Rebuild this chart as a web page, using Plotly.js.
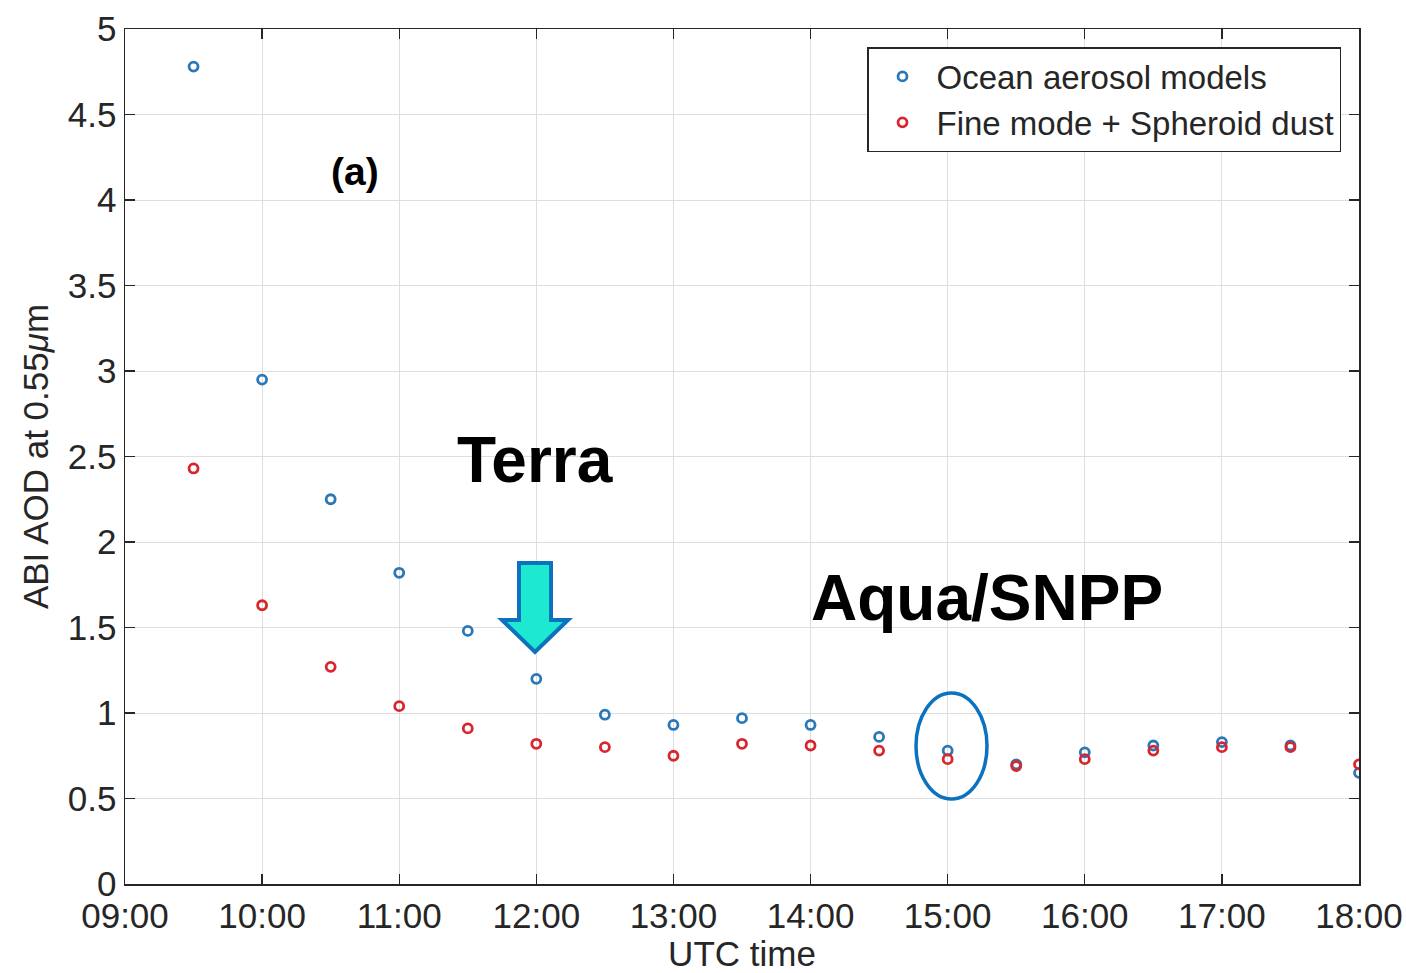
<!DOCTYPE html>
<html>
<head>
<meta charset="utf-8">
<script src="https://cdn.plot.ly/plotly-3.0.1.min.js"></script>
<style>html,body{margin:0;padding:0;background:#fff;}#chart{width:1406px;height:973px;}</style>
</head>
<body>
<div id="chart"></div>
<script>
// ---- data ----
const times = ["09:30","10:00","10:30","11:00","11:30","12:00","12:30","13:00","13:30","14:00","14:30","15:00","15:30","16:00","16:30","17:00","17:30","18:00"];
const oceanAOD = [4.78,2.95,2.25,1.82,1.48,1.20,0.99,0.93,0.97,0.93,0.86,0.78,0.70,0.77,0.81,0.83,0.81,0.65];
const fineDustAOD = [2.43,1.63,1.27,1.04,0.91,0.82,0.80,0.75,0.82,0.81,0.78,0.73,0.69,0.73,0.78,0.80,0.80,0.70];
const seriesNames = ["Ocean aerosol models","Fine mode + Spheroid dust"];
const yTicks = [0,0.5,1,1.5,2,2.5,3,3.5,4,4.5,5];
const yTickText = ["0","0.5","1","1.5","2","2.5","3","3.5","4","4.5","5"];
const xTickTimes = ["09:00","10:00","11:00","12:00","13:00","14:00","15:00","16:00","17:00","18:00"];

const day = "2018-01-01 ";
const toDate = t => day + t;

// pixel -> paper helpers (plot area: x 125..1359, y 29..884)
const L = 125, R = 1359, T = 29, B = 884;
const px = x => (x - L) / (R - L);
const py = y => (B - y) / (B - T);

const font = "Liberation Sans, Arial, Helvetica, sans-serif";
const blue = "#2b78b8";
const red = "#d9262e";
const ink = "#262626";

const traces = [
  {x: times.map(toDate), y: oceanAOD, name: seriesNames[0], type: "scatter", mode: "markers",
   marker: {symbol: "circle-open", size: 9, color: blue, line: {width: 2.8, color: blue}}},
  {x: times.map(toDate), y: fineDustAOD, name: seriesNames[1], type: "scatter", mode: "markers",
   marker: {symbol: "circle-open", size: 9, color: red, line: {width: 2.8, color: red}}}
];

// arrow shape (pixel based)
const ax = [519, 551, 551, 568, 535, 502, 519];
const ay = [563, 563, 620, 620, 652, 620, 620];
let arrowPath = "M " + ax.map((v, i) => px(v) + "," + py(ay[i])).join(" L ") + " Z";

const layout = {
  width: 1406, height: 973,
  margin: {l: L, r: 1406 - R, t: T, b: 973 - B, pad: 0},
  paper_bgcolor: "#ffffff", plot_bgcolor: "#ffffff",
  font: {family: font, color: ink, size: 34},
  showlegend: true,
  legend: {x: px(1341), y: py(47), xanchor: "right", yanchor: "top",
    bgcolor: "#ffffff", bordercolor: ink, borderwidth: 1.5,
    font: {family: font, size: 33, color: ink}, tracegroupgap: 0, itemwidth: 58},
  xaxis: {type: "date", range: [toDate("09:00"), toDate("18:00")],
    tickvals: xTickTimes.map(toDate), ticktext: xTickTimes,
    showgrid: true, gridcolor: "#dedede", gridwidth: 1,
    showline: true, linecolor: ink, linewidth: 1.5, mirror: "ticks",
    ticks: "inside", ticklen: 10, tickwidth: 1.3, tickcolor: ink,
    tickfont: {family: font, size: 35, color: ink},
    title: {text: "UTC time", font: {family: font, size: 35, color: ink}, standoff: 2},
    zeroline: false, fixedrange: true},
  yaxis: {range: [0, 5], tickvals: yTicks, ticktext: yTickText,
    showgrid: true, gridcolor: "#dedede", gridwidth: 1,
    showline: true, linecolor: ink, linewidth: 1.5, mirror: "ticks",
    ticks: "inside", ticklen: 10, tickwidth: 1.3, tickcolor: ink,
    tickfont: {family: font, size: 35, color: ink},
    title: {text: "ABI AOD at 0.55<i>μ</i>m", font: {family: font, size: 35, color: ink}, standoff: 8},
    zeroline: false, fixedrange: true},
  annotations: [
    {xref: "paper", yref: "paper", x: px(355), y: py(171), text: "<b>(a)</b>", showarrow: false,
     font: {family: font, size: 39, color: "#000"}, xanchor: "center", yanchor: "middle"},
    {xref: "paper", yref: "paper", x: px(535), y: py(460), text: "<b>Terra</b>", showarrow: false,
     font: {family: font, size: 64, color: "#000"}, xanchor: "center", yanchor: "middle"},
    {xref: "paper", yref: "paper", x: px(987), y: py(598), text: "<b>Aqua/SNPP</b>", showarrow: false,
     font: {family: font, size: 64, color: "#000"}, xanchor: "center", yanchor: "middle"}
  ],
  shapes: [
    {type: "path", xref: "paper", yref: "paper", path: arrowPath,
     fillcolor: "#1de8d0", line: {color: "#0a72bf", width: 4}},
    {type: "circle", xref: "paper", yref: "paper", x0: px(916), x1: px(987), y0: py(799), y1: py(693),
     line: {color: "#0a72bf", width: 3.5}, fillcolor: "rgba(0,0,0,0)"}
  ]
};

Plotly.newPlot("chart", traces, layout, {displayModeBar: false, staticPlot: true});
</script>
</body>
</html>
